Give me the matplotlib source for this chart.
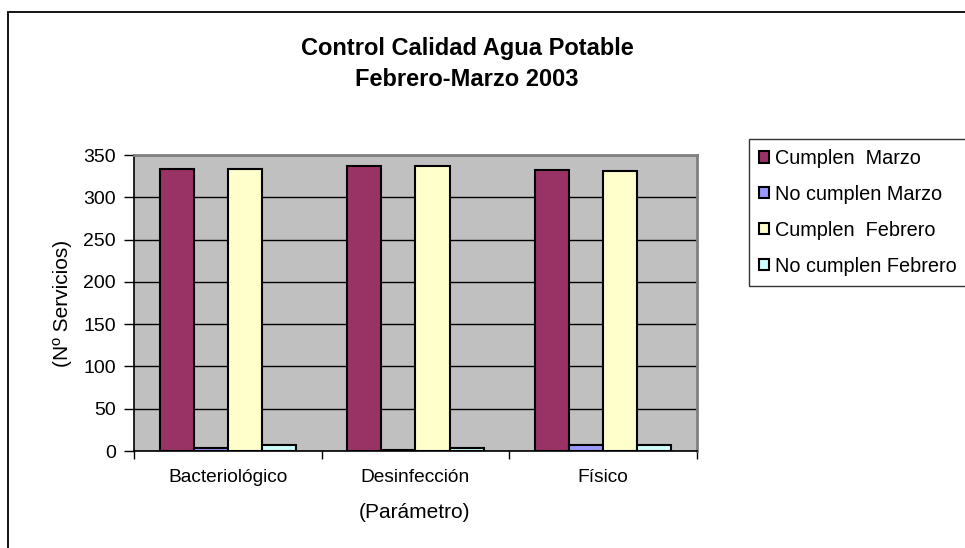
import matplotlib
matplotlib.use("Agg")
import matplotlib.pyplot as plt
from matplotlib.patches import Rectangle
import numpy as np

plt.rcParams['font.family'] = ['Liberation Sans', 'DejaVu Sans']

categories = ['Bacteriológico', 'Desinfección', 'Físico']
series_names = ['Cumplen  Marzo', 'No cumplen Marzo', 'Cumplen  Febrero', 'No cumplen Febrero']
cumplen_marzo = [334, 337, 332]
no_cumplen_marzo = [4, 1, 7]
cumplen_febrero = [334, 337, 331]
no_cumplen_febrero = [7, 4, 7]
colors = ['#993366', '#9999FF', '#FFFFCC', '#CCFFFF']

W, H = 965, 548
fig = plt.figure(figsize=(W/100, H/100), dpi=100)
ax = fig.add_axes([134/W, 1-451/H, (697-134)/W, (451-155)/H])
ax.set_facecolor('#C0C0C0')

series = [cumplen_marzo, no_cumplen_marzo, cumplen_febrero, no_cumplen_febrero]
x = np.arange(len(categories))
w = 1/5.5
handles = []
for i, (vals, c, name) in enumerate(zip(series, colors, series_names)):
    b = ax.bar(x + (i - 1.5)*w, vals, width=w, color=c, edgecolor='black',
               linewidth=1.5, label=name, zorder=3)
    handles.append(b)

ax.set_xlim(-0.5, 2.5)
ax.set_ylim(0, 350)
ax.set_yticks(range(0, 351, 50))
ax.yaxis.grid(True, color='black', linewidth=1, zorder=1)
ax.set_axisbelow(True)
ax.set_xticks([-0.5, 0.5, 1.5, 2.5])
ax.set_xticklabels([])
ax.set_xticks(x, minor=True)
ax.set_xticklabels(categories, minor=True, fontsize=13.8)
ax.tick_params(axis='x', which='minor', length=0, pad=13)
ax.tick_params(axis='x', which='major', length=6, width=1, direction='out', color='black')
ax.tick_params(axis='y', length=7, width=1, direction='out', labelsize=14, pad=6)

for s in ['top', 'right']:
    ax.spines[s].set_color('#808080')
    ax.spines[s].set_linewidth(2)
for s in ['left', 'bottom']:
    ax.spines[s].set_color('black')
    ax.spines[s].set_linewidth(1.2)

ax.set_ylabel('(Nº Servicios)', fontsize=15, labelpad=8)
fig.text(415/W, 1-513/H, '(Parámetro)', fontsize=15, ha='center', va='center')

fig.text(467/W, 1-49/H, 'Control Calidad Agua Potable', fontsize=17,
         fontweight='bold', ha='center', va='center')
fig.text(467/W, 1-80/H, 'Febrero-Marzo 2003', fontsize=17,
         fontweight='bold', ha='center', va='center')

leg = fig.legend(handles=handles, loc='upper left',
                 bbox_to_anchor=(749/W, 1-139/H), fontsize=14.3,
                 frameon=True, fancybox=False, edgecolor='black',
                 handlelength=0.5, handleheight=0.5, handletextpad=0.3,
                 labelspacing=0.85, borderpad=0.5, borderaxespad=0)
leg.get_frame().set_linewidth(1)

fig.patches.append(Rectangle((8/W, -0.05), 1.1, 1-12/H+0.05,
                             transform=fig.transFigure, fill=False,
                             edgecolor='black', linewidth=1.3))

fig.savefig('out.png', dpi=100)
